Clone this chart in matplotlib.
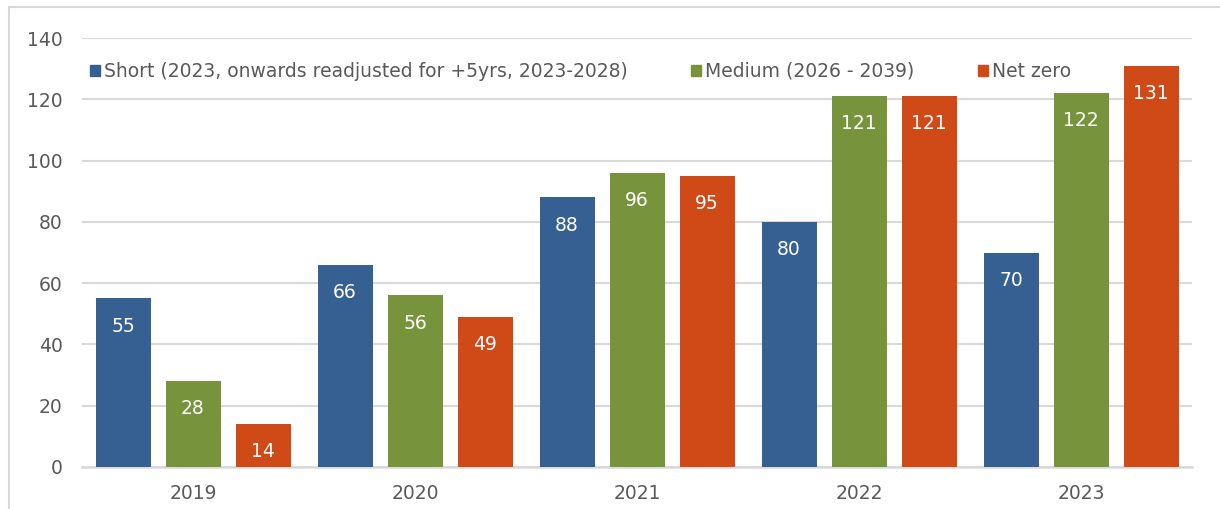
import numpy as np
import matplotlib.pyplot as plt
from matplotlib.patches import Patch
from matplotlib.lines import Line2D

anos = ['2019', '2020', '2021', '2022', '2023']
curto = [55, 66, 88, 80, 70]
medio = [28, 56, 96, 121, 122]
net_zero = [14, 49, 95, 121, 131]

series = [
    ('Short (2023, onwards readjusted for +5yrs, 2023-2028)', curto, '#376092'),
    ('Medium (2026 - 2039)', medio, '#77933c'),
    ('Net zero', net_zero, '#d04a17'),
]

cinza = '#595959'
grade = '#d9d9d9'
plt.rcParams['font.family'] = 'DejaVu Sans'

fig = plt.figure(figsize=(12.2, 5.09), dpi=100)
ax = fig.add_axes([82 / 1220, 1 - 467 / 509, 1110 / 1220, 429 / 509])

# moldura cinza: borda esquerda e de cima
xm = 8.5 / 1220
ym = 1 - 6.5 / 509
fig.lines.append(Line2D([xm, xm], [0, ym], transform=fig.transFigure,
                        color=grade, linewidth=1.5))
fig.lines.append(Line2D([xm, 1], [ym, ym], transform=fig.transFigure,
                        color=grade, linewidth=1.5))

x = np.arange(len(anos))
largura = 55 / 222
passo = 70 / 222
for i, (nome, vals, cor) in enumerate(series):
    barras = ax.bar(x + (i - 1) * passo, vals, width=largura, color=cor, zorder=3)
    for b, v in zip(barras, vals):
        ax.annotate(str(v), (b.get_x() + b.get_width() / 2, v),
                    xytext=(0, -20), textcoords='offset points',
                    ha='center', va='center', color='white', fontsize=13.5, zorder=4)

ax.set_xlim(-0.5, len(anos) - 0.5)
ax.set_ylim(0, 140)
ax.set_yticks(range(0, 141, 20))
ax.set_xticks(x)
ax.set_xticklabels(anos)
ax.yaxis.grid(True, color=grade, linewidth=1.5, zorder=0)
ax.set_axisbelow(True)
for s in ['top', 'right', 'left']:
    ax.spines[s].set_visible(False)
ax.spines['bottom'].set_color(grade)
ax.spines['bottom'].set_linewidth(1.8)
ax.tick_params(axis='y', length=0, pad=14, labelcolor=cinza, labelsize=13.5)
ax.tick_params(axis='x', length=0, pad=12, labelcolor=cinza, labelsize=13.5)

handles = [Patch(color=c, label=n) for n, v, c in series]
leg = ax.legend(handles=handles, ncol=3, loc='upper left',
                bbox_to_anchor=(0.0, 0.962), frameon=False, fontsize=13.5,
                handlelength=0.55, handleheight=0.55, handletextpad=0.2,
                columnspacing=3.4, labelcolor=cinza, borderaxespad=0)

fig.savefig('out.png', dpi=100)
